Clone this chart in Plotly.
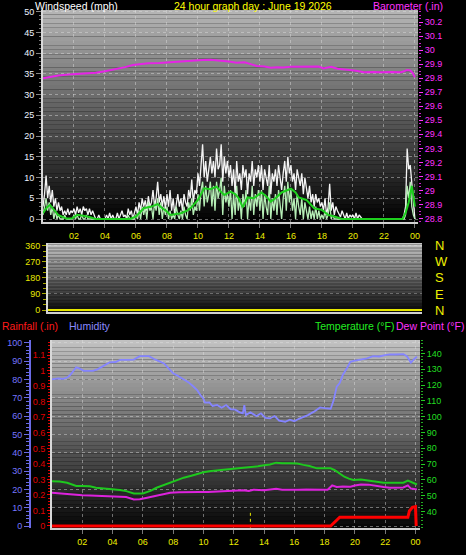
import plotly.graph_objects as go

# ---------------- data ----------------
hours10 = [i / 10 for i in range(241)]

gust = [
    3, 6, 10.5, 5, 8, 4, 7, 3, 5, 2,
    4, 2, 3, 1, 2, 1, 2.5, 1, 2, 1.5,
    2.5, 1, 3, 1.5, 2.5, 1, 3, 2, 2.5, 1,
    2.5, 1, 2, 1, 0, 0, 1, 0, 0, 0,
    0, 1, 0, 1.5, 0, 1, 0, 0, 1.5, 0,
    1, 2, 0.5, 1, 0, 2.5, 1, 2, 0, 1.5,
    3, 1, 4, 2, 5, 3, 4.5, 2, 5.5, 3,
    4, 7, 3, 5, 9, 4, 6, 3, 5.5, 2.5,
    6, 3, 7, 2, 5, 1, 4, 6, 3, 5,
    2, 6, 4, 3, 7, 5, 9.5, 4, 7, 6,
    11, 8, 13, 18, 10, 14, 9, 12, 15, 11,
    14, 10, 17, 12, 13, 18, 9, 15, 11, 14,
    10, 13, 8, 12, 6, 14, 9, 11, 7, 13,
    10, 12, 6, 11, 9, 14, 8, 12, 10, 13,
    9, 13, 7, 12, 10, 8, 13, 6, 11, 9,
    12, 8, 13, 10, 7, 11, 14, 9, 15, 11,
    13, 9, 11, 7, 12, 10, 8, 11, 6, 10,
    7, 5, 8, 4, 6, 3, 6, 4, 5, 3,
    4, 2, 5, 1, 3, 8.5, 2, 4, 1, 3,
    2, 1, 0.5, 2, 1, 0, 1.5, 0, 1, 0.5,
    1, 0, 1.5, 0, 1, 0.5, 0, 0, 0, 0,
    0, 0, 0, 0, 0, 0, 0, 0, 0, 0,
    0, 0, 0, 0, 0, 0, 0, 0, 0, 0,
    0, 0, 0, 1, 3, 17, 12, 13, 9, 5,
    0,
]

speed = [
    1, 3, 5, 2, 4, 1, 3, 0, 2, 0,
    1, 0, 0, 0, 1, 0, 0, 0, 0, 0,
    1, 0, 1, 0, 0, 1, 0, 0, 1, 0,
    0, 0, 0, 0, 0, 0, 0, 0, 0, 0,
    0, 0, 0, 0, 0, 0, 0, 0, 0, 0,
    0, 0, 0, 0, 0, 1, 0, 0, 0, 0,
    1, 0, 2, 0, 3, 1, 3, 0, 4, 2,
    3, 0, 4, 2, 5, 1, 4, 0, 3, 1,
    3, 0, 2, 0, 1, 0, 3, 1, 0, 2,
    0, 3, 1, 0, 4, 2, 5, 1, 3, 2,
    6, 2, 7, 9, 3, 8, 4, 6, 9, 3,
    8, 2, 9, 5, 7, 10, 1, 8, 4, 6,
    3, 7, 0, 6, 1, 8, 2, 5, 0, 6,
    3, 7, 0, 5, 2, 8, 1, 6, 3, 7,
    2, 7, 0, 6, 3, 1, 8, 0, 5, 2,
    6, 1, 7, 3, 0, 5, 8, 2, 9, 4,
    7, 2, 5, 0, 6, 3, 1, 5, 0, 4,
    2, 0, 3, 0, 2, 0, 3, 0, 2, 0,
    1, 0, 2, 0, 1, 4, 0, 1, 0, 0,
    0, 0, 0, 0, 0, 0, 0, 0, 0, 0,
    0, 0, 0, 0, 0, 0, 0, 0, 0, 0,
    0, 0, 0, 0, 0, 0, 0, 0, 0, 0,
    0, 0, 0, 0, 0, 0, 0, 0, 0, 0,
    0, 0, 0, 0, 1, 8, 5, 9, 3, 1,
    0,
]

avg_hours = [0, 0.25, 0.45, 0.7, 1.0, 1.2, 1.5, 1.9, 2.2, 2.6, 3.0, 3.4, 5.6, 6.0, 6.2,
             6.5, 7.0, 7.4, 7.7, 8.0, 8.2, 8.6, 8.9, 9.3, 9.6, 10.0, 10.4, 10.8, 11.2,
             11.5, 11.7, 12.1, 12.4, 12.6, 12.9, 13.2, 13.6, 14.1, 14.4, 14.7, 15.0,
             15.4, 15.7, 16.0, 16.3, 16.5, 17.0, 17.5, 18.0, 18.4, 18.8, 19.3, 23.2,
             23.4, 23.6, 23.8, 24.0]
avg_vals = [1.4, 2.8, 3.4, 2.3, 0.9, 0.6, 0.1, 0.2, 1.0, 0.8, 0.5, 0, 0, 0.6, 1.4,
            2.6, 3.0, 3.6, 2.6, 1.8, 1.0, 1.2, 1.4, 2.0, 2.9, 4.6, 7.4, 7.2, 7.8,
            6.5, 5.8, 6.6, 6.0, 5.2, 2.8, 5.2, 5.0, 6.4, 5.5, 4.2, 5.0,
            6.4, 6.8, 7.3, 6.4, 5.2, 4.6, 2.6, 2.2, 1.0, 0.6, 0, 0,
            1.5, 4.0, 8.0, 3.0]

baro_hours = [0, 0.5, 1, 1.9, 2.5, 3.4, 4, 4.7, 5.3, 5.8, 6.3, 6.8, 7.5, 8.3, 8.8, 9.2,
              9.8, 10.3, 10.8, 11.5, 12, 12.5, 13, 13.3, 13.8, 14.3, 14.7, 15.1, 15.5,
              16, 16.4, 17, 17.5, 17.8, 18.1, 18.4, 18.6, 19, 19.4, 19.8, 20.3, 20.7,
              21.3, 21.8, 22.5, 23.1, 23.3, 23.5, 23.7, 23.85, 24.0]
baro_vals = [29.80, 29.81, 29.82, 29.83, 29.832, 29.84, 29.85, 29.864, 29.88, 29.895,
             29.902, 29.907, 29.91, 29.916, 29.92, 29.926, 29.928, 29.931, 29.932,
             29.926, 29.92, 29.912, 29.914, 29.905, 29.888, 29.885, 29.876, 29.88,
             29.877, 29.882, 29.883, 29.887, 29.888, 29.884, 29.871, 29.875, 29.882,
             29.868, 29.866, 29.859, 29.853, 29.843, 29.846, 29.843, 29.845, 29.844,
             29.85, 29.86, 29.856, 29.84, 29.807]

dir_hours = [0, 6, 12, 18, 24.3]
dir_vals = [0, 0, 0, 0, 0]

hum_hours = [0, 0.4, 0.75, 1.0, 1.2, 1.4, 1.6, 1.8, 2.1, 2.4, 2.7, 3.0, 3.4, 3.8, 4.2,
             4.5, 5.0, 5.4, 5.8, 6.1, 6.4, 6.8, 7.1, 7.4, 7.7, 8.0, 8.3, 8.7, 9.0, 9.3,
             9.6, 9.8, 10.0, 10.1, 10.4, 10.6, 10.9, 11.2, 11.5, 11.8, 12.1, 12.4,
             12.6, 12.7, 12.8, 13.1, 13.5, 13.8, 14.1, 14.4, 14.7, 15.0, 15.4, 15.7,
             16.0, 16.3, 16.6, 16.9, 17.3, 17.5, 17.7, 18.0, 18.4, 18.6, 18.8, 19.0,
             19.2, 19.5, 19.7, 20.0, 20.4, 20.8, 21.2, 21.6, 22.0, 22.3, 22.7, 23.0,
             23.2, 23.45, 23.7, 23.9, 24.1]
hum_vals = [80, 80.5, 80.3, 81, 82.4, 84.5, 86.6, 86, 84.7, 84.6, 84.7, 85.5, 87.3,
            89.3, 89.5, 90.6, 90.6, 90.8, 92.7, 92.8, 92.7, 90.9, 90, 88.7, 86, 83.3,
            82, 80, 78.5, 76.4, 74, 71.5, 69.5, 67.3, 67.5, 65.5, 66, 64.5, 66, 63.7,
            63.5, 62, 61.5, 66, 60.5, 62, 60, 61.5, 59, 58.7, 60, 57.5, 56.9, 58, 57.2,
            58.5, 59.3, 60.5, 62.4, 63.5, 64.7, 64.3, 64, 68.7, 76, 78, 82.4, 86.5,
            89.6, 90.2, 90.9, 91.5, 92.7, 92.5, 93.2, 93.7, 93.6, 93.9, 93.8, 92.5,
            89.1, 91, 92.4]

temp_hours = [0, 0.5, 1.0, 1.3, 1.6, 2.0, 2.5, 2.9, 3.5, 4.0, 4.5, 4.9, 5.4, 6.0, 6.5,
              6.9, 7.4, 7.8, 8.3, 8.7, 9.2, 9.6, 10.0, 10.5, 10.9, 11.3, 11.8, 12.2,
              12.7, 13.1, 13.6, 14.0, 14.4, 14.8, 15.2, 15.7, 16.2, 16.6, 17.0, 17.5,
              18.0, 18.4, 18.7, 19.0, 19.3, 19.6, 19.9, 20.4, 20.9, 21.4, 21.9, 22.3,
              22.8, 23.2, 23.5, 23.8, 24.1]
temp_vals = [59.2, 59.0, 58.2, 57.3, 56.1, 56.1, 56.0, 55.0, 54.6, 54.0, 53.6, 52.9,
             51.4, 51.4, 53.0, 55.0, 56.8, 58.6, 60.0, 61.4, 62.6, 63.9, 64.8, 65.6,
             66.0, 66.0, 66.6, 67.1, 67.5, 68.1, 68.6, 69.2, 69.8, 70.9, 70.5, 70.6,
             70.3, 69.5, 68.8, 67.3, 67.3, 67.3, 66.0, 64.0, 62.0, 60.8, 59.9, 60.2,
             59.5, 58.6, 58.2, 58.2, 58.3, 58.2, 59.5, 58.5, 57.1]

dew_hours = [0, 0.5, 1.0, 1.5, 2.0, 2.5, 3.0, 3.5, 4.0, 4.5, 4.9, 5.4, 5.8, 6.2, 6.9,
             7.4, 7.8, 8.4, 9.1, 9.7, 10.3, 10.8, 11.3, 11.9, 12.6, 13.0, 13.3, 14.0,
             14.4, 14.8, 15.2, 15.8, 16.2, 16.8, 17.4, 17.9, 18.2, 18.5, 18.8, 19.2,
             19.7, 20.0, 20.4, 20.9, 21.4, 21.9, 22.3, 22.8, 23.2, 23.5, 23.7, 24.1]
dew_vals = [51.9, 51.5, 50.8, 50.6, 50.3, 50.2, 50.0, 49.9, 49.7, 49.4, 49.1, 47.6,
            47.8, 48.6, 50.2, 51.0, 51.9, 52.2, 52.5, 52.3, 52.3, 52.6, 52.9, 53.1,
            53.5, 53.0, 53.8, 53.5, 53.8, 54.4, 53.8, 53.5, 53.7, 53.9, 54.0, 54.0,
            53.8, 56.5, 55.5, 55.8, 55.7, 56.4, 57.1, 57.0, 56.1, 55.5, 55.0, 55.0,
            55.2, 56.5, 54.5, 54.0]

rain_hours = [0, 18.4, 19.0, 23.5, 23.6, 23.8, 24.0, 24.05]
rain_vals = [0, 0, 0.056, 0.056, 0.097, 0.12, 0.125, 0]

mark_hours = [13.1, 13.1]
mark_vals = [-0.012, 0.1]

hour_ticks = [2, 4, 6, 8, 10, 12, 14, 16, 18, 20, 22, 24]
hour_labels = ["02", "04", "06", "08", "10", "12", "14", "16", "18", "20", "22", "00"]
wind_ticks = [0, 5, 10, 15, 20, 25, 30, 35, 40, 45, 50]
baro_ticks = [28.8, 28.9, 29.0, 29.1, 29.2, 29.3, 29.4, 29.5, 29.6, 29.7, 29.8, 29.9, 30.0, 30.1, 30.2]
baro_labels = ["28.8", "28.9", "29", "29.1", "29.2", "29.3", "29.4", "29.5", "29.6",
               "29.7", "29.8", "29.9", "30", "30.1", "30.2"]
dir_ticks = [0, 90, 180, 270, 360]
dir_labels = ["N", "E", "S", "W", "N"]
rain_ticks = [0, 0.1, 0.2, 0.3, 0.4, 0.5, 0.6, 0.7, 0.8, 0.9, 1.0, 1.1]
rain_labels = ["0", "0.1", "0.2", "0.3", "0.4", "0.5", "0.6", "0.7", "0.8", "0.9", "1", "1.1"]
hum_ticks = [0, 10, 20, 30, 40, 50, 60, 70, 80, 90, 100]
temp_ticks = [40, 50, 60, 70, 80, 90, 100, 110, 120, 130, 140]

# ---------------- layout helpers ----------------
W, H = 466, 555


def fx(p):
    return p / W


def fy(p):
    return 1 - p / H


FONT = "Liberation Sans, Arial, sans-serif"
GRID = "rgba(225,225,225,0.45)"

fig = go.Figure()

# top panel
fig.add_trace(go.Scatter(x=hours10, y=gust, mode="lines", line=dict(color="#f4f4f4", width=1.3),
                         xaxis="x", yaxis="y", hoverinfo="skip"))
fig.add_trace(go.Scatter(x=hours10, y=speed, mode="lines", line=dict(color="#b6eeb6", width=1.3),
                         xaxis="x", yaxis="y", hoverinfo="skip"))
fig.add_trace(go.Scatter(x=avg_hours, y=avg_vals, mode="lines", line=dict(color="#1ecf1e", width=2),
                         xaxis="x", yaxis="y", hoverinfo="skip"))
fig.add_trace(go.Scatter(x=baro_hours, y=baro_vals, mode="lines", line=dict(color="#e524e5", width=2),
                         xaxis="x", yaxis="y2", hoverinfo="skip"))
# middle panel
fig.add_trace(go.Scatter(x=dir_hours, y=dir_vals, mode="lines", line=dict(color="#e6e600", width=2),
                         xaxis="x2", yaxis="y3", hoverinfo="skip"))
fig.add_trace(go.Scatter(x=dir_hours, y=dir_vals, mode="lines", line=dict(color="rgba(0,0,0,0)", width=0),
                         xaxis="x2", yaxis="y4", hoverinfo="skip"))
# bottom panel
fig.add_trace(go.Scatter(x=hum_hours, y=hum_vals, mode="lines", line=dict(color="#8585ff", width=1.8),
                         xaxis="x3", yaxis="y6", hoverinfo="skip"))
fig.add_trace(go.Scatter(x=temp_hours, y=temp_vals, mode="lines", line=dict(color="#1ec81e", width=2),
                         xaxis="x3", yaxis="y7", hoverinfo="skip"))
fig.add_trace(go.Scatter(x=dew_hours, y=dew_vals, mode="lines", line=dict(color="#dd22dd", width=2),
                         xaxis="x3", yaxis="y7", hoverinfo="skip"))
fig.add_trace(go.Scatter(x=mark_hours, y=mark_vals, mode="lines",
                         line=dict(color="#e6e600", width=1, dash="dot"),
                         xaxis="x3", yaxis="y5", hoverinfo="skip"))
fig.add_trace(go.Scatter(x=rain_hours, y=rain_vals, mode="lines", line=dict(color="#ff0000", width=3),
                         xaxis="x3", yaxis="y5", hoverinfo="skip"))

# gradient backgrounds
shapes = []


def gradient(xa, ya, top, bottom, n=48):
    for i in range(n):
        g = bottom + (top - bottom) * (i + 0.5) / n
        c = int(round(g))
        shapes.append(dict(type="rect", xref=xa + " domain", yref=ya + " domain",
                           x0=0, x1=1, y0=i / n, y1=(i + 1) / n,
                           fillcolor="rgb(%d,%d,%d)" % (c, c, c), line=dict(width=0),
                           layer="below"))


gradient("x", "y", 182, 0)
gradient("x2", "y3", 200, 8)
gradient("x3", "y5", 195, 5)

tf = lambda color, size=9: dict(family=FONT, size=size, color=color)

fig.update_layout(
    width=W, height=H,
    margin=dict(l=0, r=0, t=0, b=0, autoexpand=False),
    paper_bgcolor="black", plot_bgcolor="black",
    showlegend=False,
    hovermode=False,
    shapes=shapes,
    xaxis=dict(domain=[fx(43), fx(418)], range=[0, 24.2], anchor="y", automargin=False,
               tickvals=hour_ticks, ticktext=hour_labels, tickfont=tf("#eeee00"),
               ticks="outside", ticklen=4, tickcolor="#777777",
               showline=True, linecolor="#d0d0d0", linewidth=2,
               showgrid=True, gridcolor=GRID, griddash="dot", zeroline=False),
    yaxis=dict(domain=[fy(222), fy(10)], range=[-0.72, 50.4], anchor="x", automargin=False,
               tickvals=wind_ticks, tickfont=tf("#eef4ff"),
               ticks="outside", ticklen=5, tickcolor="#888888",
               minor=dict(dtick=1, ticks="outside", ticklen=2, tickcolor="#777777", showgrid=False),
               showline=True, linecolor="#d8d8d8", linewidth=2,
               showgrid=True, gridcolor=GRID, griddash="dot", zeroline=False),
    yaxis2=dict(overlaying="y", side="right", anchor="x", range=[28.774, 30.288], automargin=False,
                tickvals=baro_ticks, ticktext=baro_labels, tickfont=tf("#ff30ff"),
                ticks="outside", ticklen=4, tickcolor="#ff30ff",
                minor=dict(dtick=0.025, ticks="outside", ticklen=2, tickcolor="#cc22cc", showgrid=False),
                showline=False, showgrid=False, zeroline=False),
    xaxis2=dict(domain=[fx(48), fx(422)], range=[0, 24.3], anchor="y3", automargin=False,
                showticklabels=False, ticks="",
                showline=True, linecolor="#d0d0d0", linewidth=2,
                showgrid=False, zeroline=False),
    yaxis3=dict(domain=[fy(312), fy(243)], range=[-11, 375], anchor="x2", automargin=False,
                tickvals=dir_ticks, tickfont=tf("#e8e800"),
                ticks="outside", ticklen=4, tickcolor="#a8a800",
                minor=dict(dtick=30, ticks="outside", ticklen=3, tickcolor="#a8a800", showgrid=False),
                showline=True, linecolor="#d8d8d8", linewidth=2,
                showgrid=True, gridcolor="rgba(225,225,225,0.35)", griddash="dot", zeroline=False),
    yaxis4=dict(overlaying="y3", side="right", anchor="x2", range=[-11, 375], automargin=False,
                tickvals=dir_ticks, ticktext=dir_labels, tickfont=tf("#f0f000", 13),
                ticks="", ticklabelstandoff=12, showline=False, showgrid=False, zeroline=False),
    xaxis3=dict(domain=[fx(52), fx(420)], range=[0, 24.3], anchor="y5", automargin=False,
                tickvals=hour_ticks, ticktext=hour_labels, tickfont=tf("#eeee00"),
                ticks="outside", ticklen=4, tickcolor="#777777",
                showline=True, linecolor="#d0d0d0", linewidth=2,
                showgrid=True, gridcolor=GRID, griddash="dot", zeroline=False),
    yaxis5=dict(domain=[fy(528), fy(340)], range=[-0.013, 1.198], anchor="x3", side="left",
                automargin=False,
                tickvals=rain_ticks, ticktext=rain_labels, tickfont=tf("#e00000"),
                ticks="outside", ticklen=3, tickcolor="#ee0000",
                minor=dict(dtick=0.02, ticks="outside", ticklen=2, tickcolor="#dd0000", showgrid=False),
                showline=True, linecolor="#d8d8d8", linewidth=2,
                showgrid=False, zeroline=False),
    yaxis6=dict(overlaying="y5", anchor="free", position=fx(30), side="left", automargin=False,
                range=[-1.09, 101.5], tickvals=hum_ticks, tickfont=tf("#7676ff"),
                ticks="outside", ticklen=5, tickcolor="#6a6ae6",
                minor=dict(dtick=2, ticks="outside", ticklen=3, tickcolor="#6a6ae6", showgrid=False),
                showline=True, linecolor="#6a6ae6", linewidth=2,
                showgrid=True, gridcolor=GRID, griddash="dot", zeroline=False),
    yaxis7=dict(overlaying="y5", anchor="x3", side="right", range=[29.56, 148.5], automargin=False,
                tickvals=temp_ticks, tickfont=tf("#22dd22"),
                ticks="outside", ticklen=4, tickcolor="#22cc22",
                minor=dict(dtick=2, ticks="outside", ticklen=2, tickcolor="#22aa22", showgrid=False),
                showline=False, showgrid=False, zeroline=False),
)

titles = [
    ("Windspeed (mph)", 33, 6, "#ffffff"),
    ("24 hour graph day : June 19 2026", 172, 6, "#ffff00"),
    ("Barometer (.in)", 371, 6, "#ff33ff"),
    ("Rainfall (.in)", 0, 326, "#ff1a1a"),
    ("Humidity", 67, 326, "#8a8aff"),
    ("Temperature (°F)", 313, 326, "#22ee22"),
    ("Dew Point (°F)", 394, 326, "#ff33ff"),
]
for text, x, y, col in titles:
    fig.add_annotation(text=text, x=fx(x), y=fy(y), xref="paper", yref="paper",
                       xanchor="left", yanchor="middle", showarrow=False,
                       font=dict(family=FONT, size=10.5, color=col))

fig.write_html("out.html",
               config={"displayModeBar": False, "staticPlot": True},
               post_script="document.body.style.margin='0';"
                           "document.body.style.background='black';"
                           "document.body.style.overflow='hidden';")
